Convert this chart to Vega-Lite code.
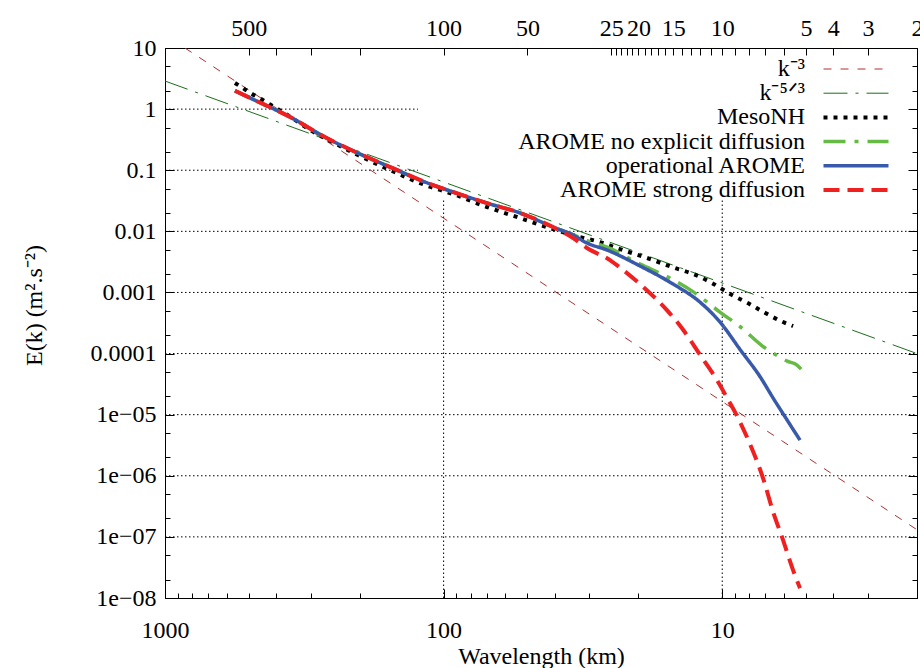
{
  "$schema": "https://vega.github.io/schema/vega-lite/v6.json",
  "width": 752,
  "height": 550,
  "autosize": {"type": "none"},
  "padding": {"left": 165, "top": 48, "right": 3, "bottom": 70},
  "background": "white",
  "config": {
    "font": "Liberation Serif",
    "view": {"stroke": "black", "strokeWidth": 1},
    "axis": {
      "labelFont": "Liberation Serif", "labelFontSize": 24, "labelColor": "black",
      "titleFont": "Liberation Serif", "titleFontSize": 24, "titleFontWeight": "normal", "titleColor": "black",
      "tickColor": "black", "domainColor": "black", "grid": false,
      "labelFlush": false, "labelOverlap": false, "tickSize": -6, "tickWidth": 1
    },
    "legend": {
      "labelFont": "Liberation Serif", "labelFontSize": 24, "labelColor": "black",
      "labelLimit": 500, "symbolType": "M-3.25,0H3.25", "symbolSize": 400, "padding": 0, "rowPadding": 0.2
    }
  },
  "datasets": {
    "hgrid": [
      {"E": 1, "a": 1000, "b": 123.6},
      {"E": 0.1, "a": 1000, "b": 123.6},
      {"E": 0.01, "a": 1000, "b": 2},
      {"E": 0.001, "a": 1000, "b": 2},
      {"E": 0.0001, "a": 1000, "b": 2},
      {"E": 0.00001, "a": 1000, "b": 2},
      {"E": 0.000001, "a": 1000, "b": 2},
      {"E": 1e-7, "a": 1000, "b": 2}
    ],
    "vgrid": [
      {"wl": 100, "lo": 1e-8, "hi": 0.0325},
      {"wl": 10, "lo": 1e-8, "hi": 0.0325}
    ],
    "curves": [
      {"series": "k⁻³", "wl": 848, "E": 10},
      {"series": "k⁻³", "wl": 2, "E": 1.31e-7},
      {"series": "k⁻⁵ᐟ³", "wl": 1000, "E": 2.88},
      {"series": "k⁻⁵ᐟ³", "wl": 2, "E": 0.0001},
      {"series": "MesoNH", "wl": 561, "E": 2.67},
      {"series": "MesoNH", "wl": 525, "E": 2.21},
      {"series": "MesoNH", "wl": 487, "E": 1.77},
      {"series": "MesoNH", "wl": 452, "E": 1.46},
      {"series": "MesoNH", "wl": 423, "E": 1.21},
      {"series": "MesoNH", "wl": 393, "E": 1.0},
      {"series": "MesoNH", "wl": 350, "E": 0.714},
      {"series": "MesoNH", "wl": 297, "E": 0.438},
      {"series": "MesoNH", "wl": 239, "E": 0.258},
      {"series": "MesoNH", "wl": 203, "E": 0.177},
      {"series": "MesoNH", "wl": 153, "E": 0.097},
      {"series": "MesoNH", "wl": 116.6, "E": 0.0573},
      {"series": "MesoNH", "wl": 92.5, "E": 0.0408},
      {"series": "MesoNH", "wl": 69.9, "E": 0.025},
      {"series": "MesoNH", "wl": 53.2, "E": 0.0165},
      {"series": "MesoNH", "wl": 40.5, "E": 0.0109},
      {"series": "MesoNH", "wl": 32.4, "E": 0.00807},
      {"series": "MesoNH", "wl": 27.5, "E": 0.00668},
      {"series": "MesoNH", "wl": 23.3, "E": 0.00513},
      {"series": "MesoNH", "wl": 18.6, "E": 0.00366},
      {"series": "MesoNH", "wl": 14.8, "E": 0.00251},
      {"series": "MesoNH", "wl": 12.7, "E": 0.002},
      {"series": "MesoNH", "wl": 10.9, "E": 0.00143},
      {"series": "MesoNH", "wl": 9.22, "E": 0.000906},
      {"series": "MesoNH", "wl": 8.1, "E": 0.000671},
      {"series": "MesoNH", "wl": 7.0, "E": 0.00046},
      {"series": "MesoNH", "wl": 6.05, "E": 0.000328},
      {"series": "MesoNH", "wl": 5.57, "E": 0.000282},
      {"series": "AROME no explicit diffusion", "wl": 561, "E": 2.0},
      {"series": "AROME no explicit diffusion", "wl": 487, "E": 1.47},
      {"series": "AROME no explicit diffusion", "wl": 350, "E": 0.714},
      {"series": "AROME no explicit diffusion", "wl": 267, "E": 0.349},
      {"series": "AROME no explicit diffusion", "wl": 203, "E": 0.191},
      {"series": "AROME no explicit diffusion", "wl": 153, "E": 0.109},
      {"series": "AROME no explicit diffusion", "wl": 116.6, "E": 0.0641},
      {"series": "AROME no explicit diffusion", "wl": 92.5, "E": 0.044},
      {"series": "AROME no explicit diffusion", "wl": 69.9, "E": 0.029},
      {"series": "AROME no explicit diffusion", "wl": 53.2, "E": 0.02},
      {"series": "AROME no explicit diffusion", "wl": 40.5, "E": 0.01175},
      {"series": "AROME no explicit diffusion", "wl": 34.3, "E": 0.0088},
      {"series": "AROME no explicit diffusion", "wl": 29.8, "E": 0.0068},
      {"series": "AROME no explicit diffusion", "wl": 25.9, "E": 0.0055},
      {"series": "AROME no explicit diffusion", "wl": 19.7, "E": 0.0029},
      {"series": "AROME no explicit diffusion", "wl": 15.4, "E": 0.00172},
      {"series": "AROME no explicit diffusion", "wl": 12.7, "E": 0.00102},
      {"series": "AROME no explicit diffusion", "wl": 10.2, "E": 0.000478},
      {"series": "AROME no explicit diffusion", "wl": 8.6, "E": 0.000272},
      {"series": "AROME no explicit diffusion", "wl": 7.1, "E": 0.000128},
      {"series": "AROME no explicit diffusion", "wl": 6.4, "E": 0.0000945},
      {"series": "AROME no explicit diffusion", "wl": 5.85, "E": 0.0000753},
      {"series": "AROME no explicit diffusion", "wl": 5.39, "E": 0.0000648},
      {"series": "AROME no explicit diffusion", "wl": 5.21, "E": 0.0000557},
      {"series": "operational AROME", "wl": 561, "E": 2.0},
      {"series": "operational AROME", "wl": 487, "E": 1.47},
      {"series": "operational AROME", "wl": 350, "E": 0.714},
      {"series": "operational AROME", "wl": 267, "E": 0.349},
      {"series": "operational AROME", "wl": 203, "E": 0.191},
      {"series": "operational AROME", "wl": 153, "E": 0.109},
      {"series": "operational AROME", "wl": 116.6, "E": 0.0641},
      {"series": "operational AROME", "wl": 92.5, "E": 0.044},
      {"series": "operational AROME", "wl": 69.9, "E": 0.029},
      {"series": "operational AROME", "wl": 53.2, "E": 0.02},
      {"series": "operational AROME", "wl": 40.5, "E": 0.01175},
      {"series": "operational AROME", "wl": 34.3, "E": 0.0087},
      {"series": "operational AROME", "wl": 30.6, "E": 0.00644},
      {"series": "operational AROME", "wl": 25.9, "E": 0.00494},
      {"series": "operational AROME", "wl": 19.7, "E": 0.0027},
      {"series": "operational AROME", "wl": 15.0, "E": 0.00137},
      {"series": "operational AROME", "wl": 12.0, "E": 0.00069},
      {"series": "operational AROME", "wl": 10.2, "E": 0.00033},
      {"series": "operational AROME", "wl": 8.6, "E": 0.000114},
      {"series": "operational AROME", "wl": 7.3, "E": 0.0000412},
      {"series": "operational AROME", "wl": 6.6, "E": 0.0000194},
      {"series": "operational AROME", "wl": 5.85, "E": 0.00000816},
      {"series": "operational AROME", "wl": 5.26, "E": 0.00000384},
      {"series": "AROME strong diffusion", "wl": 561, "E": 2.0},
      {"series": "AROME strong diffusion", "wl": 487, "E": 1.47},
      {"series": "AROME strong diffusion", "wl": 350, "E": 0.714},
      {"series": "AROME strong diffusion", "wl": 267, "E": 0.349},
      {"series": "AROME strong diffusion", "wl": 203, "E": 0.191},
      {"series": "AROME strong diffusion", "wl": 153, "E": 0.109},
      {"series": "AROME strong diffusion", "wl": 116.6, "E": 0.0641},
      {"series": "AROME strong diffusion", "wl": 92.5, "E": 0.044},
      {"series": "AROME strong diffusion", "wl": 69.9, "E": 0.029},
      {"series": "AROME strong diffusion", "wl": 53.2, "E": 0.02},
      {"series": "AROME strong diffusion", "wl": 40.5, "E": 0.01175},
      {"series": "AROME strong diffusion", "wl": 34.3, "E": 0.00777},
      {"series": "AROME strong diffusion", "wl": 30.6, "E": 0.00533},
      {"series": "AROME strong diffusion", "wl": 25.3, "E": 0.00339},
      {"series": "AROME strong diffusion", "wl": 22.7, "E": 0.00233},
      {"series": "AROME strong diffusion", "wl": 19.2, "E": 0.00123},
      {"series": "AROME strong diffusion", "wl": 15.8, "E": 0.000515},
      {"series": "AROME strong diffusion", "wl": 13.8, "E": 0.000243},
      {"series": "AROME strong diffusion", "wl": 12.0, "E": 0.0000945},
      {"series": "AROME strong diffusion", "wl": 10.4, "E": 0.0000355},
      {"series": "AROME strong diffusion", "wl": 9.6, "E": 0.0000187},
      {"series": "AROME strong diffusion", "wl": 8.85, "E": 0.0000095},
      {"series": "AROME strong diffusion", "wl": 7.95, "E": 0.0000033},
      {"series": "AROME strong diffusion", "wl": 7.1, "E": 8.5e-7},
      {"series": "AROME strong diffusion", "wl": 6.6, "E": 2.75e-7},
      {"series": "AROME strong diffusion", "wl": 6.05, "E": 8.87e-8},
      {"series": "AROME strong diffusion", "wl": 5.57, "E": 2.86e-8},
      {"series": "AROME strong diffusion", "wl": 5.26, "E": 1.45e-8}
    ]
  },
  "layer": [
    {
      "data": {"name": "hgrid"},
      "mark": {"type": "rule", "color": "black", "strokeWidth": 1, "strokeDash": [1.5, 2.5]},
      "encoding": {
        "y": {
          "field": "E", "type": "quantitative",
          "scale": {"type": "log", "domain": [1e-8, 10], "nice": false},
          "axis": {
            "orient": "right", "title": null, "labels": false,
            "tickSize": {"condition": {"test": "abs(log(datum.value)/LN10 - round(log(datum.value)/LN10)) < 0.001", "value": -9}, "value": -5},
            "values": [1e-8, 2e-8, 5e-8, 1e-7, 2e-7, 5e-7, 0.000001, 0.000002, 0.000005, 0.00001, 0.00002, 0.00005, 0.0001, 0.0002, 0.0005, 0.001, 0.002, 0.005, 0.01, 0.02, 0.05, 0.1, 0.2, 0.5, 1, 2, 5, 10]
          }
        },
        "x": {
          "field": "a", "type": "quantitative",
          "scale": {"type": "log", "domain": [2, 1000], "reverse": true, "nice": false},
          "axis": {
            "orient": "top", "title": null, "labelPadding": 15, "tickSize": -7,
            "values": [500, 400, 300, 200, 100, 50, 25, 24, 23, 22, 21, 20, 19, 18, 17, 16, 15, 14, 13, 12, 11, 10, 9, 8, 7, 6, 5, 4, 3, 2],
            "labelExpr": "indexof([500,100,50,25,20,15,10,5,4,3,2], datum.value) >= 0 ? toString(datum.value) : ''"
          }
        },
        "x2": {"field": "b"}
      }
    },
    {
      "data": {"name": "vgrid"},
      "mark": {"type": "rule", "color": "black", "strokeWidth": 1, "strokeDash": [1.5, 2.5]},
      "encoding": {
        "x": {"field": "wl", "type": "quantitative", "scale": {"type": "log", "domain": [2, 1000], "reverse": true, "nice": false}, "axis": null},
        "y": {"field": "lo", "type": "quantitative", "scale": {"type": "log", "domain": [1e-8, 10], "nice": false}, "axis": null},
        "y2": {"field": "hi"}
      }
    },
    {
      "data": {"name": "curves"},
      "mark": {"type": "line", "clip": true, "interpolate": "monotone"},
      "encoding": {
        "x": {
          "field": "wl", "type": "quantitative",
          "scale": {"type": "log", "domain": [2, 1000], "reverse": true, "nice": false},
          "axis": {
            "orient": "bottom", "title": "Wavelength (km)", "labelPadding": 29, "titlePadding": -2,
            "tickSize": {"condition": {"test": "abs(log(datum.value)/LN10 - round(log(datum.value)/LN10)) < 0.001", "value": -9}, "value": -5},
            "values": [1000, 900, 800, 700, 600, 500, 400, 300, 200, 100, 90, 80, 70, 60, 50, 40, 30, 20, 10, 9, 8, 7, 6, 5, 4, 3, 2],
            "labelExpr": "indexof([1000,100,10], datum.value) >= 0 ? toString(datum.value) : ''"
          }
        },
        "y": {
          "field": "E", "type": "quantitative",
          "scale": {"type": "log", "domain": [1e-8, 10], "nice": false},
          "axis": {
            "orient": "left", "title": "E(k)  (m².s⁻²)", "labelPadding": 18, "titlePadding": 44, "titleY": 257,
            "tickSize": {"condition": {"test": "abs(log(datum.value)/LN10 - round(log(datum.value)/LN10)) < 0.001", "value": -9}, "value": -5},
            "values": [1e-8, 2e-8, 5e-8, 1e-7, 2e-7, 5e-7, 0.000001, 0.000002, 0.000005, 0.00001, 0.00002, 0.00005, 0.0001, 0.0002, 0.0005, 0.001, 0.002, 0.005, 0.01, 0.02, 0.05, 0.1, 0.2, 0.5, 1, 2, 5, 10],
            "labelExpr": "indexof([10,1,0.1,0.01,0.001,0.0001], datum.value) >= 0 ? toString(datum.value) : (indexof([0.00001,0.000001,1e-7,1e-8], datum.value) >= 0 ? '1e−0' + toString(round(-log(datum.value)/LN10)) : '')"
          }
        },
        "color": {
          "field": "series", "type": "nominal",
          "scale": {
            "domain": ["k⁻³", "k⁻⁵ᐟ³", "MesoNH", "AROME no explicit diffusion", "operational AROME", "AROME strong diffusion"],
            "range": ["#b03030", "#1a6e1a", "#000000", "#66bb44", "#3959ab", "#f02020"]
          },
          "legend": {
            "title": null, "orient": "none", "legendX": 679, "legendY": 9,
            "labelAlign": "right", "labelOffset": -63
          }
        },
        "strokeDash": {
          "field": "series", "type": "nominal",
          "scale": {
            "domain": ["k⁻³", "k⁻⁵ᐟ³", "MesoNH", "AROME no explicit diffusion", "operational AROME", "AROME strong diffusion"],
            "range": [[8, 9], [24, 8, 3, 8], [4, 6], [22, 9, 4, 9], [1, 0], [16, 8]]
          },
          "legend": {"title": null}
        },
        "strokeWidth": {
          "field": "series", "type": "nominal",
          "scale": {
            "type": "ordinal",
            "domain": ["k⁻³", "k⁻⁵ᐟ³", "MesoNH", "AROME no explicit diffusion", "operational AROME", "AROME strong diffusion"],
            "range": [1, 1, 4, 3.5, 3.5, 4]
          },
          "legend": {"title": null}
        }
      }
    }
  ],
  "resolve": {"axis": {"x": "independent", "y": "independent"}}
}
